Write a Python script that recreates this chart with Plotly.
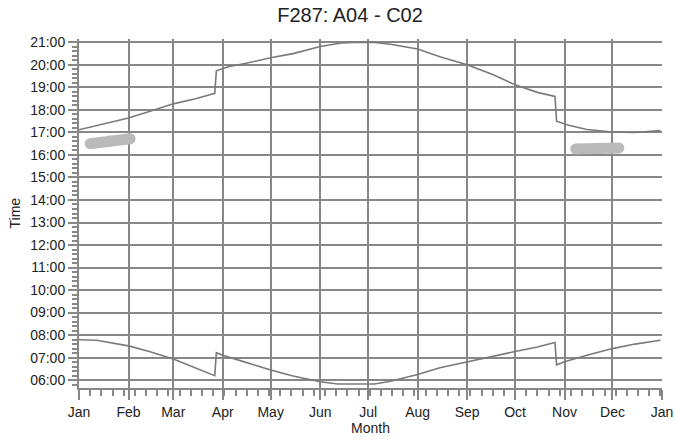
import plotly.graph_objects as go

# ---- data (hours of day) ----
upper_dates = ["2021-01-01", "2021-01-15", "2021-02-01", "2021-02-15", "2021-03-01",
               "2021-03-15", "2021-03-27", "2021-03-28", "2021-04-05", "2021-04-15",
               "2021-05-01", "2021-05-15", "2021-06-01", "2021-06-15", "2021-06-25",
               "2021-07-05", "2021-07-15", "2021-08-01", "2021-08-15", "2021-09-01",
               "2021-09-17", "2021-10-01", "2021-10-15", "2021-10-26", "2021-10-27",
               "2021-11-03", "2021-11-15", "2021-12-01", "2021-12-15", "2021-12-31"]
upper_hours = [17.12, 17.36, 17.64, 17.95, 18.27,
               18.50, 18.74, 19.74, 19.93, 20.06,
               20.32, 20.50, 20.82, 20.98, 21.01,
               21.00, 20.92, 20.71, 20.36, 20.01,
               19.57, 19.12, 18.78, 18.60, 17.50,
               17.33, 17.13, 17.02, 17.00, 17.08]

lower_dates = ["2021-01-01", "2021-01-12", "2021-02-01", "2021-02-14", "2021-03-01",
               "2021-03-17", "2021-03-27", "2021-03-28", "2021-04-01", "2021-04-15",
               "2021-05-01", "2021-05-15", "2021-06-01", "2021-06-12", "2021-07-05",
               "2021-07-15", "2021-08-01", "2021-08-15", "2021-09-01", "2021-09-15",
               "2021-10-01", "2021-10-15", "2021-10-26", "2021-10-27", "2021-11-01",
               "2021-11-15", "2021-12-01", "2021-12-15", "2021-12-31"]
lower_hours = [7.79, 7.77, 7.52, 7.27, 6.94,
               6.48, 6.20, 7.22, 7.10, 6.80,
               6.45, 6.18, 5.93, 5.83, 5.83,
               5.95, 6.25, 6.55, 6.82, 7.02,
               7.27, 7.47, 7.67, 6.68, 6.82,
               7.10, 7.40, 7.60, 7.77]

blob1_dates = ["2021-01-08", "2021-01-20", "2021-02-02"]
blob1_hours = [16.50, 16.62, 16.72]
blob2_dates = ["2021-11-08", "2021-11-22", "2021-12-05"]
blob2_hours = [16.27, 16.29, 16.31]

hour_ticks = list(range(6, 22))
hour_labels = [f"{h:02d}:00" for h in hour_ticks]
month_ticks = ["2021-%02d-01" % m for m in range(1, 13)] + ["2022-01-01"]
month_labels = ["Jan", "Feb", "Mar", "Apr", "May", "Jun", "Jul", "Aug",
                "Sep", "Oct", "Nov", "Dec", "Jan"]

LINE = "#7a7a7a"
GRID = "#878787"
BLOB = "#bababa"
FONT = "Liberation Sans, Arial, sans-serif"

fig = go.Figure()
for d, h in [(blob1_dates, blob1_hours), (blob2_dates, blob2_hours)]:
    fig.add_trace(go.Scatter(x=d, y=h, mode="lines+markers",
                             line=dict(color=BLOB, width=11),
                             marker=dict(color=BLOB, size=11, line=dict(width=0)),
                             hoverinfo="skip"))
fig.add_trace(go.Scatter(x=upper_dates, y=upper_hours, mode="lines",
                         line=dict(color=LINE, width=1.6)))
fig.add_trace(go.Scatter(x=lower_dates, y=lower_hours, mode="lines",
                         line=dict(color=LINE, width=1.6)))

fig.update_layout(
    width=675, height=439,
    margin=dict(l=79, r=13, t=39, b=51, autoexpand=False),
    paper_bgcolor="white", plot_bgcolor="white",
    showlegend=False,
    font=dict(family=FONT, size=14, color="#222222"),
    title=dict(text="F287: A04 - C02", x=350 / 675, xref="container", xanchor="center",
               y=1 - 15 / 439, yref="container", yanchor="middle",
               font=dict(size=20, family=FONT, color="#222222")),
    annotations=[dict(text="Time", textangle=-90, xref="paper", yref="paper",
                      x=(14 - 79) / 583, y=0.5, xanchor="center", yanchor="middle",
                      showarrow=False, font=dict(size=14, family=FONT, color="#222222"))],
)
fig.update_xaxes(
    type="date", range=["2021-01-01", "2022-01-01"],
    tickmode="array", tickvals=month_ticks, ticktext=month_labels,
    showgrid=True, gridcolor=GRID, gridwidth=2,
    showline=True, linecolor=GRID, linewidth=2,
    ticks="outside", ticklen=10, tickwidth=2, tickcolor=GRID,
    minor=dict(tickmode="linear", tick0="2021-01-01", dtick=7 * 86400000,
               ticks="outside", ticklen=6, tickwidth=1.5, tickcolor=GRID, showgrid=False),
    title=dict(text="Month", standoff=0, font=dict(size=14)),
    tickfont=dict(size=14),
    zeroline=False, automargin=False,
)
fig.update_yaxes(
    range=[5.65, 21.15],
    tickmode="array", tickvals=hour_ticks, ticktext=hour_labels,
    showgrid=True, gridcolor=GRID, gridwidth=2,
    showline=True, linecolor=GRID, linewidth=2,
    ticks="outside", ticklen=9, tickwidth=2, tickcolor=GRID,
    minor=dict(tickmode="linear", tick0=0, dtick=0.2,
               ticks="outside", ticklen=5, tickwidth=1.5, tickcolor=GRID, showgrid=False),
    tickfont=dict(size=14),
    zeroline=False, automargin=False,
)

fig.write_html("out.html", config={"displayModeBar": False},
               post_script="document.body.style.margin='0';")
